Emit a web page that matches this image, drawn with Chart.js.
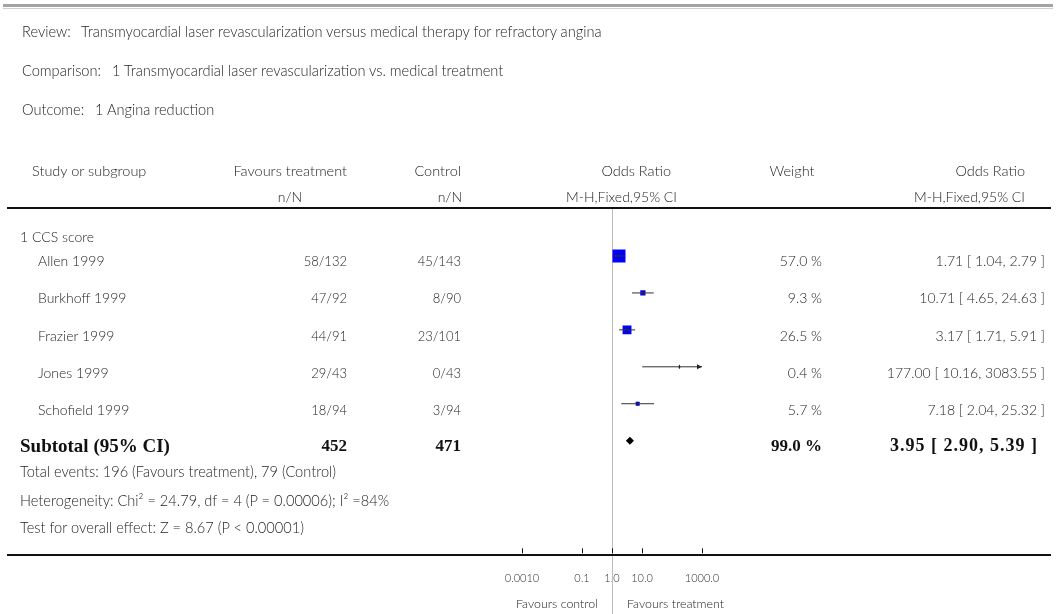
<!DOCTYPE html>
<html>
<head>
<meta charset="utf-8">
<script src="https://cdn.jsdelivr.net/npm/chart.js@4.4.0/dist/chart.umd.min.js"></script>
<style>
    body { margin: 0; background: #fff; }
    #page { position: relative; width: 1057px; height: 614px; overflow: hidden; font-family: Lato, 'Open Sans', sans-serif; font-weight: 300; color: #1e1e1e; }
    #forest { position: absolute; left: 0; top: 0; }
    .t { position: absolute; white-space: nowrap; line-height: 1; transform: translateY(-50%); }
    .t.r { transform: translate(-100%, -50%); }
    .t.c { transform: translate(-50%, -50%); }
    .meta { font-size: 14.6px; }
    .hdr { font-size: 14.5px; }
    .sub { font-size: 14px; }
    .cell { font-size: 14px; }
    .num { font-size: 13px; }
    .note { font-size: 14.6px; }
    .bold { font-family: 'Liberation Serif', 'DejaVu Serif', serif; font-weight: bold; font-size: 17px; color: #111; }
    .big { font-size: 19px; }
    .wide { font-size: 18px; letter-spacing: 1px; }
    .axis { font-size: 12.4px; }
    .rule { position: absolute; left: 7px; width: 1044px; height: 2px; background: #111; }
</style>
</head>
<body>
<div id="page">
    <canvas id="forest" width="1057" height="614"></canvas>
</div>
<script>
// ---- data ----
const studies = ['Allen 1999', 'Burkhoff 1999', 'Frazier 1999', 'Jones 1999', 'Schofield 1999'];
const treatmentCounts = ['58/132', '47/92', '44/91', '29/43', '18/94'];
const controlCounts = ['45/143', '8/90', '23/101', '0/43', '3/94'];
const oddsRatios = [1.71, 10.71, 3.17, 177.00, 7.18];
const ciLower = [1.04, 4.65, 1.71, 10.16, 2.04];
const ciUpper = [2.79, 24.63, 5.91, 3083.55, 25.32];
const weights = [57.0, 9.3, 26.5, 0.4, 5.7];

const subtotalTotals = [452, 471];
const subtotalWeight = 99.0;
const subtotalOR = 3.95;
const subtotalCI = [2.90, 5.39];

const axisTicks = [0.001, 0.1, 1, 10, 1000];
const axisTickLabels = ['0.0010', '0.1', '1.0', '10.0', '1000.0'];

const page = document.getElementById('page');

function addText(txt, x, y, cls) {
    const d = document.createElement('div');
    d.className = 't ' + cls;
    d.textContent = txt;
    d.style.left = x + 'px';
    d.style.top = y + 'px';
    page.appendChild(d);
}

function addRule(top, height, color, left, width) {
    const d = document.createElement('div');
    d.className = 'rule';
    d.style.top = top + 'px';
    if (height) d.style.height = height + 'px';
    if (color) d.style.background = color;
    if (left !== undefined) d.style.left = left + 'px';
    if (width) d.style.width = width + 'px';
    page.appendChild(d);
}

// top band
addRule(4, 3, '#a3a3a3', 3, 1050);
addRule(8, 1, '#cfcfcf', 3, 1050);

// review info
addText('Review:', 22, 32, 'meta');
addText('Transmyocardial laser revascularization versus medical therapy for refractory angina', 81, 32, 'meta');
addText('Comparison:', 22, 71, 'meta');
addText('1 Transmyocardial laser revascularization vs. medical treatment', 112, 71, 'meta');
addText('Outcome:', 22, 110, 'meta');
addText('1 Angina reduction', 95, 110, 'meta');

// column headers
addText('Study or subgroup', 32, 171, 'hdr');
addText('Favours treatment', 347, 171, 'hdr r');
addText('n/N', 290, 197, 'sub c');
addText('Control', 461, 171, 'hdr r');
addText('n/N', 462, 197, 'sub r');
addText('Odds Ratio', 671, 171, 'hdr r');
addText('M-H,Fixed,95% CI', 677, 197, 'sub r');
addText('Weight', 792, 171, 'hdr c');
addText('Odds Ratio', 1025, 171, 'hdr r');
addText('M-H,Fixed,95% CI', 1025, 197, 'sub r');
addRule(207, 2);

// study rows
addText('1 CCS score', 20, 237, 'cell');
studies.forEach((name, i) => {
    const y = 261 + i * 37.25;
    addText(name, 38, y, 'cell');
    addText(treatmentCounts[i], 347, y, 'num r');
    addText(controlCounts[i], 461, y, 'num r');
    addText(weights[i].toFixed(1) + ' %', 822, y, 'cell r');
    addText(`${oddsRatios[i].toFixed(2)} [ ${ciLower[i].toFixed(2)}, ${ciUpper[i].toFixed(2)} ]`, 1045, y, 'cell r');
});

addText('Subtotal (95% CI)', 20, 445, 'bold big');
addText(String(subtotalTotals[0]), 347, 445, 'bold r');
addText(String(subtotalTotals[1]), 461, 445, 'bold r');
addText(subtotalWeight.toFixed(1) + ' %', 822, 445, 'bold r');
addText(`${subtotalOR.toFixed(2)} [ ${subtotalCI[0].toFixed(2)}, ${subtotalCI[1].toFixed(2)} ]`, 1038, 445, 'bold wide r');

addText('Total events: 196 (Favours treatment), 79 (Control)', 20, 472, 'note');
addText('Heterogeneity: Chi² = 24.79, df = 4 (P = 0.00006); I² =84%', 20, 501, 'note');
addText('Test for overall effect: Z = 8.67 (P < 0.00001)', 20, 528, 'note');

addRule(554, 2);
addText('Favours control', 598, 604, 'axis r');
addText('Favours treatment', 627, 604, 'axis');

const subtotalRow = studies.length;

// vertical no-effect line, tick marks, arrows and the pooled diamond
const forestExtras = {
    id: 'forestExtras',
    beforeDatasetsDraw(chart) {
        const { ctx, chartArea, scales: { x } } = chart;
        const px = Math.round(x.getPixelForValue(1)) + 0.5;
        ctx.save();
        ctx.strokeStyle = '#bdbdbd';
        ctx.lineWidth = 1;
        ctx.beginPath();
        ctx.moveTo(px, chartArea.top);
        ctx.lineTo(px, chart.height);
        ctx.stroke();
        ctx.restore();
    },
    afterDatasetsDraw(chart) {
        const { ctx, chartArea, scales: { x, y } } = chart;
        ctx.save();
        ctx.strokeStyle = '#111';
        ctx.lineWidth = 1;
        x.ticks.forEach(t => {
            const p = Math.round(x.getPixelForValue(t.value)) + 0.5;
            ctx.beginPath();
            ctx.moveTo(p, chartArea.bottom - 5);
            ctx.lineTo(p, chartArea.bottom);
            ctx.stroke();
        });

        ctx.fillStyle = '#222';
        ciUpper.forEach((hi, i) => {
            if (hi <= x.max) return;
            const py = y.getPixelForValue(i);
            const px = chartArea.right;
            ctx.beginPath();
            ctx.moveTo(px, py);
            ctx.lineTo(px - 5, py - 2.5);
            ctx.lineTo(px - 5, py + 2.5);
            ctx.closePath();
            ctx.fill();
        });

        const yy = y.getPixelForValue(subtotalRow);
        const l = x.getPixelForValue(subtotalCI[0]);
        const c = x.getPixelForValue(subtotalOR);
        const r = x.getPixelForValue(subtotalCI[1]);
        ctx.fillStyle = '#000';
        ctx.beginPath();
        ctx.moveTo(l, yy);
        ctx.lineTo(c, yy - 4);
        ctx.lineTo(r, yy);
        ctx.lineTo(c, yy + 4);
        ctx.closePath();
        ctx.fill();
        ctx.restore();
    }
};

const ciDatasets = studies.map((name, i) => ({
    label: name + ' 95% CI',
    data: [{ x: ciLower[i], y: i }, { x: ciUpper[i], y: i }],
    showLine: true,
    borderColor: '#333',
    borderWidth: 1,
    pointRadius: 0,
    order: 1
}));

const estimateTicks = {
    label: 'Point estimate',
    data: oddsRatios.map((v, i) => ({ x: v, y: i })),
    pointStyle: 'line',
    rotation: 90,
    pointRadius: 2,
    borderColor: '#222',
    borderWidth: 1,
    order: 0
};

const squares = {
    label: 'Odds ratio',
    data: oddsRatios.map((v, i) => ({ x: v, y: i })),
    pointStyle: 'rect',
    pointRadius: ctx => Math.max(1.2, 1.22 * Math.sqrt(weights[ctx.dataIndex])),
    backgroundColor: '#0000ff',
    borderWidth: 0,
    order: 2
};

new Chart(document.getElementById('forest'), {
    type: 'scatter',
    data: { datasets: [estimateTicks, ...ciDatasets, squares] },
    options: {
        responsive: false,
        animation: false,
        events: [],
        devicePixelRatio: 1,
        layout: { padding: { left: 522, right: 355, top: 208, bottom: 9.5 } },
        plugins: { legend: { display: false }, tooltip: { enabled: false } },
        scales: {
            x: {
                type: 'logarithmic',
                min: 0.001,
                max: 1000,
                grid: { display: false, drawTicks: false },
                border: { display: false },
                afterBuildTicks: axis => { axis.ticks = axisTicks.map(v => ({ value: v })); },
                ticks: {
                    autoSkip: false,
                    maxRotation: 0,
                    padding: 19,
                    color: '#333',
                    font: { family: 'Lato', size: 11, weight: 300 },
                    callback: (v, i) => axisTickLabels[i]
                }
            },
            y: {
                type: 'linear',
                display: false,
                reverse: true,
                min: -1.3,
                max: 8.05
            }
        }
    },
    plugins: [forestExtras]
});
</script>
</body>
</html>
